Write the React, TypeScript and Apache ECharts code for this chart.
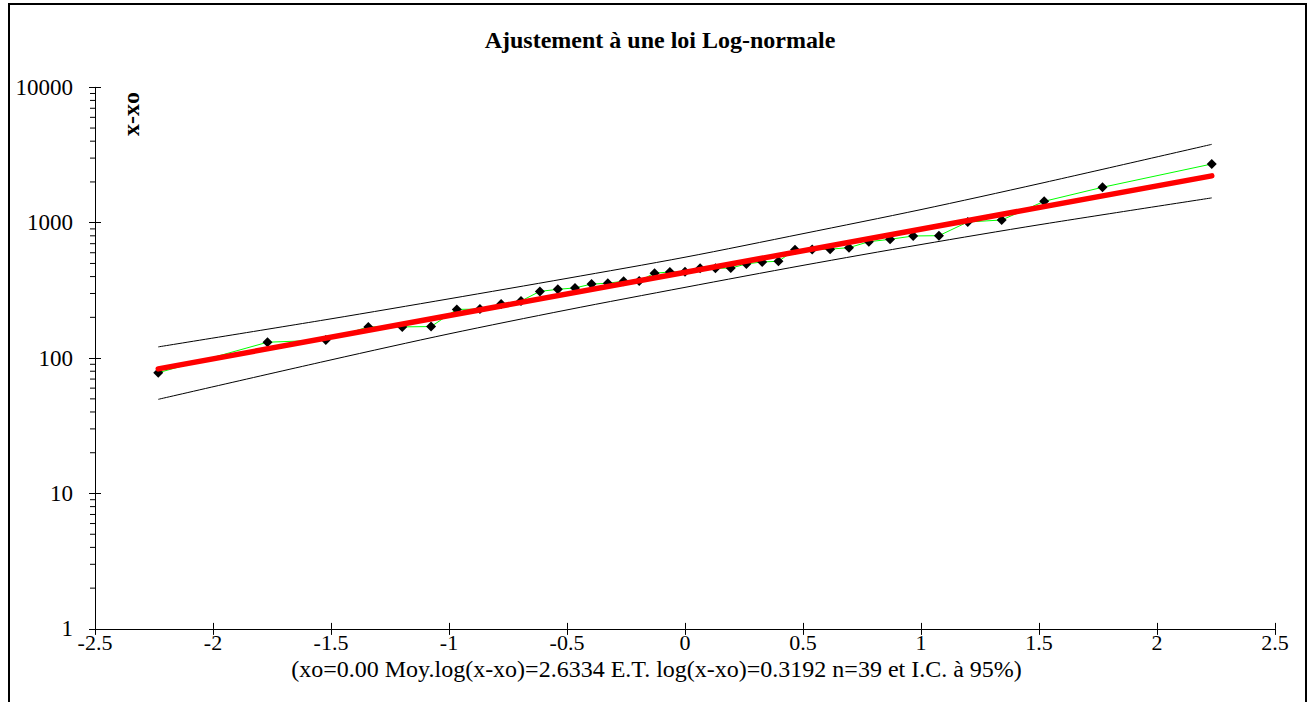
import React, { useEffect, useRef } from "react";
import * as echarts from "echarts";

// Normal quantiles (plotting positions) of the 39 observations
const quantiles = [
  -2.232, -1.769, -1.522, -1.342, -1.198, -1.076, -0.967, -0.869, -0.779, -0.695,
  -0.615, -0.539, -0.466, -0.396, -0.327, -0.26, -0.194, -0.129, -0.064, 0,
  0.064, 0.129, 0.194, 0.26, 0.327, 0.396, 0.466, 0.539, 0.615, 0.695,
  0.779, 0.869, 0.967, 1.076, 1.198, 1.342, 1.522, 1.769, 2.232,
];
// Observed values x - xo
const observed = [
  78, 131, 136, 170, 170, 171, 229, 230, 251, 264,
  311, 322, 330, 352, 357, 370, 371, 424, 432, 434,
  460, 461, 462, 496, 513, 519, 630, 633, 638, 654,
  724, 754, 798, 802, 1012, 1047, 1439, 1826, 2713,
];
// Fitted log-normal line (end points)
const fitX = [-2.232, 2.232];
const fitY = [83.3, 2218];
// 95% confidence band
const bandX = [-2.232, -1.5, -1, -0.5, 0, 0.5, 1, 1.5, 2.232];
const bandUpper = [121, 195, 274, 388, 556, 830, 1250, 1940, 3790];
const bandLower = [49.6, 97, 151, 227, 333, 484, 690, 965, 1525];
// Axis settings
const xMin = -2.5;
const xMax = 2.5;
const xStep = 0.5;
const yMin = 1;
const yMax = 10000;
const decades = [1, 10, 100, 1000];
const minorMultipliers = [2, 3, 4, 5, 6, 7, 8, 9];

const title = "Ajustement à une loi Log-normale";
const yName = "x-xo";
const footer = "(xo=0.00 Moy.log(x-xo)=2.6334 E.T. log(x-xo)=0.3192 n=39 et I.C. à 95%)";

const FONT = '"Liberation Serif", "Times New Roman", serif';

export default function App() {
  const ref = useRef<HTMLDivElement>(null);

  useEffect(() => {
    document.body.style.margin = "0";
    const chart = echarts.init(ref.current!, null, { renderer: "svg" });
    const minorTicks: number[][] = [];
    decades.forEach((d) => minorMultipliers.forEach((m) => minorTicks.push([xMin, d * m])));

    const xBase = {
      type: "value",
      min: xMin,
      max: xMax,
      interval: xStep,
      position: "bottom",
      splitLine: { show: false },
    };
    const yBase = {
      type: "log",
      logBase: 10,
      min: yMin,
      max: yMax,
      position: "left",
      splitLine: { show: false },
      minorTick: { show: false },
    };

    chart.setOption({
      animation: false,
      backgroundColor: "#ffffff",
      textStyle: { fontFamily: FONT },
      grid: {
        left: 95,
        right: 36,
        top: 87.3,
        bottom: 73.1,
        containLabel: false,
        outerBoundsMode: "none",
      },
      xAxis: [
        {
          ...xBase,
          axisLine: { show: true, onZero: false, lineStyle: { color: "#000", width: 1 } },
          axisTick: { show: true, length: 6, lineStyle: { color: "#000", width: 1 } },
          axisLabel: {
            color: "#000",
            fontSize: 22,
            lineHeight: 14,
            fontFamily: FONT,
            margin: 7,
            formatter: (v: number) => String(v),
          },
        },
        {
          ...xBase,
          axisLine: { show: false, onZero: false },
          axisTick: { show: true, inside: true, length: 6, lineStyle: { color: "#000", width: 1 } },
          axisLabel: { show: false },
        },
      ],
      yAxis: [
        {
          ...yBase,
          axisLine: { show: true, onZero: false, lineStyle: { color: "#000", width: 1 } },
          axisTick: { show: true, length: 6, lineStyle: { color: "#000", width: 1 } },
          axisLabel: {
            color: "#000",
            fontSize: 23,
            fontFamily: FONT,
            margin: 22,
            formatter: (v: number) => String(Math.round(v)),
          },
        },
        {
          ...yBase,
          axisLine: { show: false, onZero: false },
          axisTick: { show: true, inside: true, length: 6, lineStyle: { color: "#000", width: 1 } },
          axisLabel: { show: false },
        },
      ],
      graphic: [
        {
          type: "rect",
          shape: { x: 9, y: 4, width: 1297, height: 740 },
          style: { fill: "none", stroke: "#000", lineWidth: 2 },
          silent: true,
        },
        {
          type: "text",
          x: 660,
          y: 40,
          style: {
            text: title,
            font: `bold 24px ${FONT}`,
            fill: "#000",
            align: "center",
            verticalAlign: "middle",
            textAlign: "center",
            textVerticalAlign: "middle",
          },
        },
        {
          type: "text",
          x: 130.5,
          y: 114,
          rotation: Math.PI / 2,
          style: {
            text: yName,
            font: `bold 24px ${FONT}`,
            fill: "#000",
            align: "center",
            verticalAlign: "middle",
            textAlign: "center",
            textVerticalAlign: "middle",
          },
        },
        {
          type: "text",
          x: 656.5,
          y: 669,
          style: {
            text: footer,
            font: `24px ${FONT}`,
            lineHeight: 17,
            fill: "#000",
            align: "center",
            verticalAlign: "middle",
            textAlign: "center",
            textVerticalAlign: "middle",
          },
        },
      ],
      series: [
        {
          type: "line",
          name: "Observations",
          data: quantiles.map((x, i) => [x, observed[i]]),
          symbol: "diamond",
          symbolSize: 10,
          itemStyle: { color: "#000" },
          lineStyle: { color: "#00ff00", width: 1 },
          z: 2,
          silent: true,
        },
        {
          type: "line",
          name: "Borne sup",
          data: bandX.map((x, i) => [x, bandUpper[i]]),
          smooth: 0.3,
          symbol: "none",
          lineStyle: { color: "#000", width: 1 },
          z: 3,
          silent: true,
        },
        {
          type: "line",
          name: "Borne inf",
          data: bandX.map((x, i) => [x, bandLower[i]]),
          smooth: 0.3,
          symbol: "none",
          lineStyle: { color: "#000", width: 1 },
          z: 3,
          silent: true,
        },
        {
          type: "line",
          name: "Ajustement",
          data: fitX.map((x, i) => [x, fitY[i]]),
          symbol: "none",
          lineStyle: { color: "#ff0000", width: 5.5, cap: "round" },
          z: 4,
          silent: true,
        },
        {
          type: "custom",
          name: "minorTicks",
          data: minorTicks,
          silent: true,
          clip: false,
          z: 5,
          renderItem: (_params: any, api: any) => {
            const p = api.coord([api.value(0), api.value(1)]);
            return {
              type: "line",
              shape: { x1: p[0] - 5, y1: p[1], x2: p[0], y2: p[1] },
              style: { stroke: "#000", lineWidth: 1 },
            };
          },
        },
      ],
    });
    return () => chart.dispose();
  }, []);

  return (
    <div
      ref={ref}
      style={{ position: "absolute", left: 0, top: 0, width: 1311, height: 702, background: "#fff" }}
    />
  );
}
